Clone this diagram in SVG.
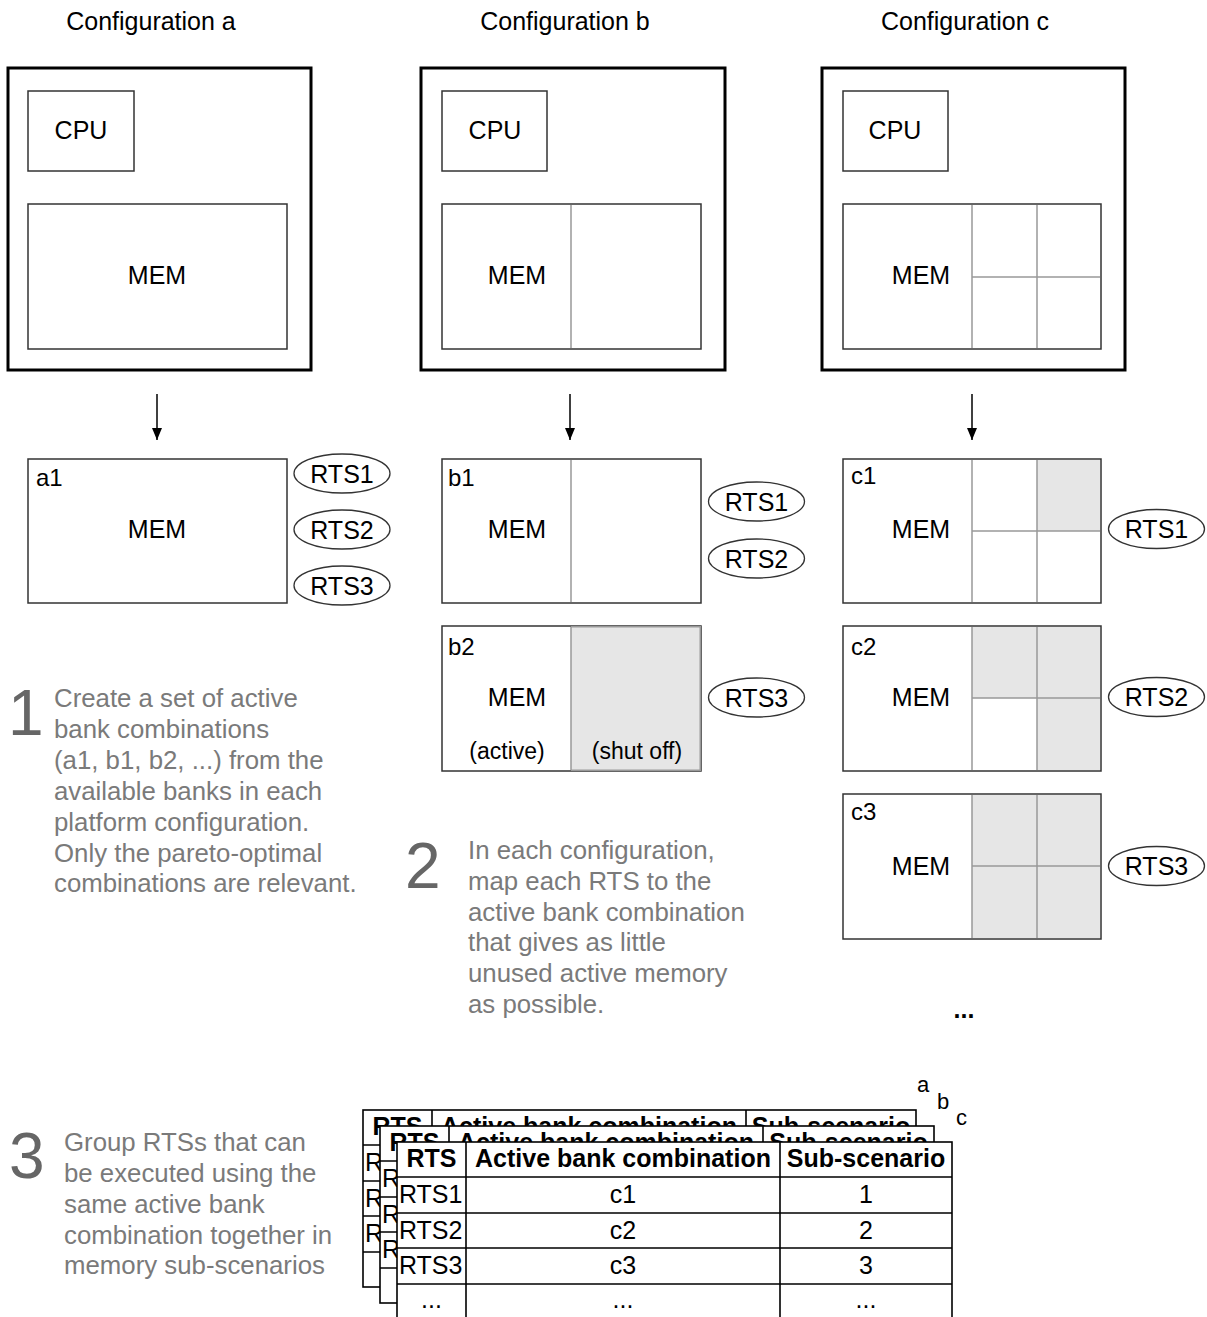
<svg xmlns="http://www.w3.org/2000/svg" width="1207" height="1317" viewBox="0 0 1207 1317">
<style>
text{font-family:"Liberation Sans",Arial,sans-serif;fill:#000}
.t{font-size:25px}
.c{text-anchor:middle}
.lbl{font-size:24px}
.outer{fill:#fff;stroke:#000;stroke-width:3}
.box{fill:#fff;stroke:#333;stroke-width:1.5}
.div{stroke:#999;stroke-width:1.5;fill:none}
.sh{fill:#e6e6e6}
.ell{fill:#fff;stroke:#333;stroke-width:1.3}
.step{font-size:25.8px;fill:#7a7a7a}
.num{font-size:64px;fill:#666}
.tb{fill:#fff;stroke:#000;stroke-width:1.6}
.tl{stroke:#000;stroke-width:1.6;fill:none}
.th{font-size:25px;font-weight:bold}
.td{font-size:25px}
.conn{stroke:#000;stroke-width:1.5;fill:none}
</style>
<defs>
<marker id="ah" markerWidth="12" markerHeight="10" refX="12" refY="5" orient="auto" markerUnits="userSpaceOnUse" viewBox="0 0 12 10">
<path d="M0,0 L12,5 L0,10 Z" fill="#000"/>
</marker>
</defs>
<rect width="1207" height="1317" fill="#fff"/>

<!-- titles -->
<text class="t c" x="151" y="30">Configuration a</text>
<text class="t c" x="565" y="30">Configuration b</text>
<text class="t c" x="965" y="30">Configuration c</text>

<g id="config-a">
<rect class="outer" x="8" y="68" width="303" height="302"/>
<rect class="box" x="28" y="91" width="106" height="80"/>
<text class="t c" x="81" y="139">CPU</text>
<rect class="box" x="28" y="204" width="259" height="145"/>
<text class="t c" x="157" y="284">MEM</text>
</g>

<g id="config-b">
<rect class="outer" x="421" y="68" width="304" height="302"/>
<rect class="box" x="442" y="91" width="105" height="80"/>
<text class="t c" x="495" y="139">CPU</text>
<rect class="box" x="442" y="204" width="259" height="145"/>
<line class="div" x1="571" y1="205" x2="571" y2="348"/>
<text class="t c" x="517" y="284">MEM</text>
</g>

<g id="config-c">
<rect class="outer" x="822" y="68" width="303" height="302"/>
<rect class="box" x="843" y="91" width="105" height="80"/>
<text class="t c" x="895" y="139">CPU</text>
<rect class="box" x="843" y="204" width="258" height="145"/>
<line class="div" x1="972" y1="205" x2="972" y2="348"/>
<line class="div" x1="1037" y1="205" x2="1037" y2="348"/>
<line class="div" x1="972" y1="277" x2="1100" y2="277"/>
<text class="t c" x="921" y="284">MEM</text>
</g>

<g id="connectors">
<line class="conn" x1="157" y1="394" x2="157" y2="440" marker-end="url(#ah)"/>
<line class="conn" x1="570" y1="394" x2="570" y2="440" marker-end="url(#ah)"/>
<line class="conn" x1="972" y1="394" x2="972" y2="440" marker-end="url(#ah)"/>
</g>

<g id="a1">
<rect class="box" x="28" y="459" width="259" height="144"/>
<text class="lbl" x="36" y="486">a1</text>
<text class="t c" x="157" y="538">MEM</text>
</g>
<g id="a-rts1"><ellipse class="ell" cx="342" cy="473.5" rx="48" ry="19.5"/><text class="t c" x="342" y="482.5">RTS1</text></g>
<g id="a-rts2"><ellipse class="ell" cx="342" cy="529.5" rx="48" ry="19.5"/><text class="t c" x="342" y="538.5">RTS2</text></g>
<g id="a-rts3"><ellipse class="ell" cx="342" cy="585.5" rx="48" ry="19.5"/><text class="t c" x="342" y="594.5">RTS3</text></g>

<g id="b1">
<rect class="box" x="442" y="459" width="259" height="144"/>
<line class="div" x1="571" y1="460" x2="571" y2="602"/>
<text class="lbl" x="448" y="486">b1</text>
<text class="t c" x="517" y="538">MEM</text>
</g>
<g id="b-rts1"><ellipse class="ell" cx="756.5" cy="501.5" rx="48" ry="19.5"/><text class="t c" x="756.5" y="510.5">RTS1</text></g>
<g id="b-rts2"><ellipse class="ell" cx="756.5" cy="558.5" rx="48" ry="19.5"/><text class="t c" x="756.5" y="567.5">RTS2</text></g>

<g id="b2">
<rect class="box" x="442" y="626" width="259" height="145"/>
<rect class="sh" x="571" y="627" width="129.5" height="143"/>
<line class="div" x1="571" y1="627" x2="571" y2="770"/>
<path d="M571,626.75 H700.25 V770.25 H571" fill="none" stroke="#999" stroke-width="1.5"/>
<text class="lbl" x="448" y="655">b2</text>
<text class="t c" x="517" y="706">MEM</text>
<text class="t c" x="507" y="759" style="font-size:23px">(active)</text>
<text class="t c" x="637" y="759" style="font-size:23px">(shut off)</text>
</g>
<g id="b-rts3"><ellipse class="ell" cx="756.5" cy="697.5" rx="48" ry="19.5"/><text class="t c" x="756.5" y="706.5">RTS3</text></g>

<g id="c1">
<rect class="box" x="843" y="459" width="258" height="144"/>
<rect class="sh" x="1037" y="460" width="63" height="71"/>
<line class="div" x1="972" y1="460" x2="972" y2="602"/>
<line class="div" x1="1037" y1="460" x2="1037" y2="602"/>
<line class="div" x1="972" y1="531" x2="1100" y2="531"/>
<text class="lbl" x="851" y="484">c1</text>
<text class="t c" x="921" y="538">MEM</text>
</g>
<g id="c-rts1"><ellipse class="ell" cx="1156.5" cy="529" rx="48" ry="19.5"/><text class="t c" x="1156.5" y="538">RTS1</text></g>

<g id="c2">
<rect class="box" x="843" y="626" width="258" height="145"/>
<rect class="sh" x="972" y="627" width="128" height="71"/>
<rect class="sh" x="1037" y="698" width="63" height="72"/>
<line class="div" x1="972" y1="627" x2="972" y2="770"/>
<line class="div" x1="1037" y1="627" x2="1037" y2="770"/>
<line class="div" x1="972" y1="698" x2="1100" y2="698"/>
<text class="lbl" x="851" y="655">c2</text>
<text class="t c" x="921" y="706">MEM</text>
</g>
<g id="c-rts2"><ellipse class="ell" cx="1156.5" cy="697" rx="48" ry="19.5"/><text class="t c" x="1156.5" y="706">RTS2</text></g>

<g id="c3">
<rect class="box" x="843" y="794" width="258" height="145"/>
<rect class="sh" x="972" y="795" width="128" height="143"/>
<line class="div" x1="972" y1="795" x2="972" y2="938"/>
<line class="div" x1="1037" y1="795" x2="1037" y2="938"/>
<line class="div" x1="972" y1="866" x2="1100" y2="866"/>
<text class="lbl" x="851" y="820">c3</text>
<text class="t c" x="921" y="875">MEM</text>
</g>
<g id="c-rts3"><ellipse class="ell" cx="1156.5" cy="866" rx="48" ry="19.5"/><text class="t c" x="1156.5" y="875">RTS3</text></g>

<text class="t c" x="964" y="1018" style="font-weight:bold">...</text>

<g id="step1">
<text class="num" x="8" y="735">1</text>
<text class="step" x="54" y="707">Create a set of active</text>
<text class="step" x="54" y="738">bank combinations</text>
<text class="step" x="54" y="769">(a1, b1, b2, ...) from the</text>
<text class="step" x="54" y="800">available banks in each</text>
<text class="step" x="54" y="831">platform configuration.</text>
<text class="step" x="54" y="862">Only the pareto-optimal</text>
<text class="step" x="54" y="892">combinations are relevant.</text>
</g>

<g id="step2">
<text class="num" x="405" y="888">2</text>
<text class="step" x="468" y="859">In each configuration,</text>
<text class="step" x="468" y="890">map each RTS to the</text>
<text class="step" x="468" y="921">active bank combination</text>
<text class="step" x="468" y="951">that gives as little</text>
<text class="step" x="468" y="982">unused active memory</text>
<text class="step" x="468" y="1013">as possible.</text>
</g>

<g id="step3">
<text class="num" x="9" y="1178">3</text>
<text class="step" x="64" y="1151">Group RTSs that can</text>
<text class="step" x="64" y="1182">be executed using the</text>
<text class="step" x="64" y="1213">same active bank</text>
<text class="step" x="64" y="1244">combination together in</text>
<text class="step" x="64" y="1274">memory sub-scenarios</text>
</g>

<g id="table-a">
<rect class="tb" x="363" y="1110" width="553" height="177"/>
<path class="tl" d="M363,1145 H916 M363,1181 H916 M363,1216 H916 M363,1252 H916 M432,1110 V1287 M746,1110 V1287"/>
<text class="th c" x="397.5" y="1135">RTS</text>
<text class="th c" x="589" y="1135">Active bank combination</text>
<text class="th c" x="831" y="1135">Sub-scenario</text>
<text class="td" x="365" y="1171">RTS1</text>
<text class="td" x="365" y="1207">RTS2</text>
<text class="td" x="365" y="1242">RTS3</text>
</g>
<g id="table-b">
<rect class="tb" x="380" y="1126" width="554" height="177"/>
<path class="tl" d="M380,1161 H934 M380,1197 H934 M380,1232 H934 M380,1268 H934 M449,1126 V1303 M763,1126 V1303"/>
<text class="th c" x="414.5" y="1151">RTS</text>
<text class="th c" x="606" y="1151">Active bank combination</text>
<text class="th c" x="848.5" y="1151">Sub-scenario</text>
<text class="td" x="382" y="1187">RTS1</text>
<text class="td" x="382" y="1223">RTS2</text>
<text class="td" x="382" y="1258">RTS3</text>
</g>
<g id="table-c">
<rect class="tb" x="397" y="1142" width="555" height="185"/>
<path class="tl" d="M397,1177 H952 M397,1213 H952 M397,1248 H952 M397,1284 H952 M466,1142 V1320 M780,1142 V1320"/>
<text class="th c" x="431.5" y="1167">RTS</text>
<text class="th c" x="623" y="1167">Active bank combination</text>
<text class="th c" x="866" y="1167">Sub-scenario</text>
<text class="td" x="399" y="1203">RTS1</text>
<text class="td c" x="623" y="1203">c1</text>
<text class="td c" x="866" y="1203">1</text>
<text class="td" x="399" y="1239">RTS2</text>
<text class="td c" x="623" y="1239">c2</text>
<text class="td c" x="866" y="1239">2</text>
<text class="td" x="399" y="1274">RTS3</text>
<text class="td c" x="623" y="1274">c3</text>
<text class="td c" x="866" y="1274">3</text>
<text class="td c" x="431.5" y="1308">...</text>
<text class="td c" x="623" y="1308">...</text>
<text class="td c" x="866" y="1308">...</text>
</g>
<g id="layer-labels">
<text x="917" y="1092" style="font-size:22px">a</text>
<text x="937" y="1109" style="font-size:22px">b</text>
<text x="956" y="1125" style="font-size:22px">c</text>
</g>
</svg>
